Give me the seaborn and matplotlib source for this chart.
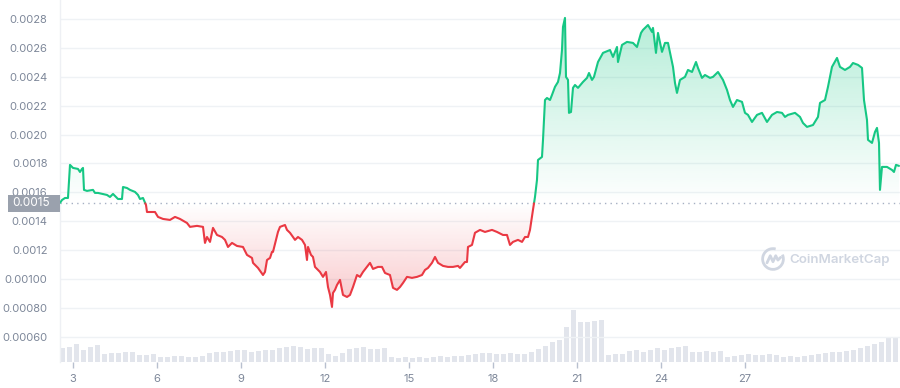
import numpy as np
import pandas as pd
import matplotlib
matplotlib.use("Agg")
import matplotlib.pyplot as plt
import seaborn as sns
from matplotlib.patches import Arc, Rectangle
from matplotlib.path import Path
from matplotlib.colors import to_rgb
import matplotlib.transforms as mtrans

# ---------------- data ----------------
days = [2.536, 2.607, 2.714, 2.821, 2.893, 3.0, 3.179, 3.25, 3.321, 3.357, 3.393, 3.5, 3.714, 3.786, 3.893,
        4.214, 4.321, 4.429, 4.607, 4.75, 4.786, 4.929, 5.036, 5.214, 5.321, 5.393, 5.5, 5.607, 5.643, 5.929,
        6.036, 6.214, 6.464, 6.643, 6.821, 7.071, 7.179, 7.429, 7.643, 7.714, 7.786, 7.893, 8.0, 8.143, 8.321,
        8.429, 8.536, 8.679, 8.857, 9.071, 9.214, 9.393, 9.429, 9.607, 9.786, 9.857, 9.929, 10.036, 10.107,
        10.143, 10.321, 10.393, 10.571, 10.643, 10.75, 10.857, 10.929, 11.036, 11.179, 11.286, 11.357, 11.393,
        11.5, 11.571, 11.643, 11.75, 11.821, 11.929, 12.036, 12.107, 12.179, 12.25, 12.286, 12.357, 12.429,
        12.536, 12.643, 12.786, 12.893, 13.0, 13.143, 13.25, 13.357, 13.607, 13.714, 13.893, 14.036, 14.143,
        14.321, 14.429, 14.571, 14.679, 14.786, 14.929, 15.107, 15.286, 15.464, 15.571, 15.679, 15.821, 15.929,
        16.036, 16.214, 16.393, 16.571, 16.75, 16.821, 17.0, 17.071, 17.107, 17.25, 17.357, 17.536, 17.714,
        17.964, 18.143, 18.357, 18.5, 18.607, 18.714, 18.893, 19.036, 19.143, 19.25, 19.321, 19.429, 19.5,
        19.571, 19.607, 19.75, 19.786, 19.857, 19.929, 20.036, 20.107, 20.214, 20.321, 20.393, 20.464, 20.5,
        20.571, 20.607, 20.679, 20.714, 20.786, 20.857, 20.929, 21.036, 21.214, 21.357, 21.429, 21.536, 21.607,
        21.75, 21.929, 22.179, 22.286, 22.429, 22.464, 22.607, 22.786, 23.0, 23.143, 23.286, 23.357, 23.536,
        23.679, 23.714, 23.821, 23.893, 24.036, 24.143, 24.25, 24.429, 24.5, 24.571, 24.679, 24.857, 24.964,
        25.107, 25.25, 25.321, 25.464, 25.571, 25.75, 25.857, 26.036, 26.214, 26.357, 26.464, 26.571, 26.714,
        26.893, 27.0, 27.107, 27.25, 27.429, 27.607, 27.786, 27.964, 28.143, 28.321, 28.429, 28.536, 28.786,
        28.964, 29.071, 29.214, 29.429, 29.607, 29.679, 29.857, 29.964, 30.107, 30.286, 30.393, 30.571, 30.75,
        30.857, 31.036, 31.179, 31.25, 31.357, 31.393, 31.536, 31.643, 31.714, 31.786, 31.821, 31.893, 32.071,
        32.25, 32.321, 32.393, 32.5]

prices = [0.001527, 0.001547, 0.001561, 0.001561, 0.00179, 0.001769, 0.001762, 0.001741, 0.001762, 0.001769,
          0.001617, 0.00161, 0.001617, 0.001596, 0.001596, 0.001582, 0.001568, 0.001589, 0.001554, 0.001554,
          0.001637, 0.00163, 0.001617, 0.001603, 0.001582, 0.001554, 0.001561, 0.001513, 0.001464, 0.001464,
          0.00143, 0.001416, 0.001409, 0.00143, 0.001416, 0.001388, 0.001361, 0.001368, 0.001361, 0.00125,
          0.001291, 0.001257, 0.001354, 0.001305, 0.001291, 0.001271, 0.001222, 0.00125, 0.001229, 0.001222,
          0.001167, 0.001146, 0.001112, 0.001077, 0.001028, 0.001049, 0.001132, 0.001146, 0.001188, 0.001188,
          0.001326, 0.001361, 0.001374, 0.00134, 0.00132, 0.001291, 0.001271, 0.001291, 0.001271, 0.001236,
          0.001132, 0.001222, 0.001167, 0.001153, 0.001084, 0.001063, 0.001049, 0.001015, 0.001049, 0.000945,
          0.00089, 0.000807, 0.000904, 0.000925, 0.000959, 0.000994, 0.00089, 0.000876, 0.00089, 0.000945,
          0.001028, 0.001015, 0.001049, 0.001112, 0.00107, 0.001084, 0.001084, 0.001042, 0.001028, 0.000939,
          0.000925, 0.000945, 0.000973, 0.001015, 0.001008, 0.001015, 0.001028, 0.001063, 0.001077, 0.001112,
          0.001153, 0.001112, 0.001091, 0.001084, 0.001084, 0.001091, 0.001077, 0.001118, 0.001118, 0.001222,
          0.001236, 0.00132, 0.00134, 0.001326, 0.00134, 0.001326, 0.001305, 0.001305, 0.001236, 0.001257,
          0.001271, 0.001257, 0.001291, 0.001291, 0.00134, 0.00148, 0.001568, 0.001686, 0.001824, 0.001845,
          0.001963, 0.002239, 0.002253, 0.002239, 0.002274, 0.00233, 0.002364, 0.002426, 0.002585, 0.002745,
          0.002807, 0.002399, 0.002378, 0.00215, 0.002156, 0.002323, 0.002343, 0.002323, 0.002364, 0.002392,
          0.002426, 0.002378, 0.002399, 0.002502, 0.002565, 0.002585, 0.002537, 0.002606, 0.002502, 0.00262,
          0.002641, 0.002634, 0.002606, 0.002703, 0.002724, 0.002758, 0.00271, 0.002738, 0.002565, 0.002703,
          0.002572, 0.002634, 0.002634, 0.002468, 0.002357, 0.002288, 0.002378, 0.002399, 0.002447, 0.002433,
          0.002502, 0.002461, 0.002392, 0.002412, 0.002392, 0.002399, 0.002433, 0.002378, 0.002309, 0.002239,
          0.002191, 0.002239, 0.002226, 0.00215, 0.002136, 0.002087, 0.002136, 0.00215, 0.002087, 0.002136,
          0.002156, 0.00215, 0.002122, 0.002136, 0.00215, 0.002122, 0.00208, 0.002053, 0.002066, 0.002122,
          0.002219, 0.002239, 0.00233, 0.002468, 0.00253, 0.002468, 0.002447, 0.002468, 0.002495, 0.002482,
          0.002461, 0.002239, 0.002101, 0.001963, 0.001942, 0.002018, 0.002046, 0.001942, 0.001617, 0.001776,
          0.001776, 0.001755, 0.001741, 0.00179, 0.001783]

base_price = 0.001524          # opening price (reference line)
base_label = "0.0015"

vol_start = 2.5
vol_step = 0.25
volume = [14, 15, 18, 12, 15, 17, 8, 9, 9, 10, 10, 7, 7, 8, 5, 5, 6, 6, 5, 5,
          6, 9, 10, 10, 11, 12, 12, 10, 11, 12, 12, 14, 15, 16, 15, 13, 14, 14, 8, 6,
          9, 13, 14, 15, 13, 13, 14, 5, 4, 5, 4, 5, 4, 5, 6, 5, 6, 6, 7, 8,
          9, 9, 8, 8, 9, 8, 8, 10, 13, 16, 20, 22, 35, 52, 40, 40, 41, 42, 7, 8,
          8, 11, 12, 10, 12, 14, 12, 14, 15, 16, 10, 10, 11, 10, 11, 5, 6, 7, 8, 7,
          7, 8, 7, 5, 6, 5, 6, 7, 8, 9, 10, 10, 11, 12, 14, 16, 18, 20, 24, 25]

xticks = [3, 6, 9, 12, 15, 18, 21, 24, 27]
yticks = [0.0028, 0.0026, 0.0024, 0.0022, 0.0020, 0.0018, 0.0016, 0.0014, 0.0012, 0.0010, 0.0008, 0.0006]
ytick_labels = ["0.0028", "0.0026", "0.0024", "0.0022", "0.0020", "0.0018", "0.0016", "0.0014",
                "0.0012", "0.00100", "0.00080", "0.00060"]

GREEN = "#16c784"
RED = "#ea3943"
TXT = "#7d8799"

# ---------------- style ----------------
sns.set_theme(style="white")
plt.rcParams["font.family"] = ["Inter", "DejaVu Sans"]

fig = plt.figure(figsize=(9, 3.88), dpi=100)
rect = [60 / 900, 26 / 388, 840 / 900, 362 / 388]
vax = fig.add_axes(rect)
ax = fig.add_axes(rect)
ax.patch.set_visible(False)

xlim = (2.536, 32.536)
ylim = (0.000426, 0.002931)

# ---------------- volume ----------------
vol_x = [vol_start + i * vol_step + vol_step / 2 for i in range(len(volume))]
vax.bar(vol_x, volume, width=vol_step * 0.62, color="#e2e5ec", linewidth=0)
vax.set_xlim(*xlim)
vax.set_ylim(0, max(volume) * 6.95)
vax.axis("off")

# ---------------- price line, split at base ----------------
d = np.array(days)
p = np.array(prices)
rows = []
seg = 0
cur = p[0] >= base_price
rows.append((d[0], p[0], seg, cur))
for i in range(1, len(d)):
    s = p[i] >= base_price
    if s != cur:
        t = (base_price - p[i - 1]) / (p[i] - p[i - 1])
        xc = d[i - 1] + t * (d[i] - d[i - 1])
        rows.append((xc, base_price, seg, cur))
        seg += 1
        rows.append((xc, base_price, seg, s))
        cur = s
    rows.append((d[i], p[i], seg, s))
df = pd.DataFrame(rows, columns=["day", "price", "seg", "up"])
df["trend"] = np.where(df["up"], "up", "down")


def grad_fill(ax, x, ylow, yhigh, color, y0, y1, a0, a1):
    poly = ax.fill_between(x, ylow, yhigh, facecolor="none", edgecolor="none", linewidth=0)
    path = Path.make_compound_path(*poly.get_paths())
    r, g, b = to_rgb(color)
    n = 256
    img = np.zeros((n, 1, 4))
    img[:, 0, 0], img[:, 0, 1], img[:, 0, 2] = r, g, b
    img[:, 0, 3] = np.linspace(a0, a1, n)
    im = ax.imshow(img, extent=(xlim[0], xlim[1], y0, y1), origin="lower",
                   aspect="auto", interpolation="bilinear", zorder=1)
    im.set_clip_path(path, transform=ax.transData)


xx = df["day"].values
pp = df["price"].values
grad_fill(ax, xx, base_price, np.maximum(pp, base_price), GREEN, base_price, p.max(), 0.0, 0.32)
grad_fill(ax, xx, np.minimum(pp, base_price), base_price, RED, p.min(), base_price, 0.28, 0.0)

sns.lineplot(data=df, x="day", y="price", hue="trend", units="seg", estimator=None,
             palette={"up": GREEN, "down": RED}, linewidth=1.5, legend=False, sort=False,
             ax=ax, zorder=3)

ax.axhline(base_price, color="#a6b0c3", linestyle=(0, (1, 3)), linewidth=1, zorder=2)

# ---------------- axes ----------------
ax.set_xlim(*xlim)
ax.set_ylim(*ylim)
ax.set_xlabel("")
ax.set_ylabel("")
ax.set_yticks(yticks)
ax.set_yticklabels(ytick_labels)
ax.set_xticks(xticks)
ax.set_xticklabels([str(t) for t in xticks])
ax.yaxis.grid(True, color="#eff2f5", linewidth=1)
ax.xaxis.grid(False)
ax.set_axisbelow(True)
ax.tick_params(axis="y", length=0, pad=9, labelsize=8, labelcolor=TXT)
ax.tick_params(axis="x", length=4, width=1, color="#b8c0cf", pad=5, labelsize=8,
               labelcolor=TXT, direction="out", bottom=True)
for side in ["top", "right", "bottom"]:
    ax.spines[side].set_visible(False)
ax.spines["left"].set_color("#eef0f4")
ax.spines["left"].set_linewidth(1)

# base price label box
trans = mtrans.blended_transform_factory(ax.transAxes, ax.transData)
box_h = 0.0001176
ax.add_patch(Rectangle((-52 / 840, base_price - box_h / 2), 52 / 840, box_h, transform=trans,
                       facecolor="#9aa1ad", edgecolor="none", clip_on=False, zorder=5))
ax.text(-10 / 840, base_price, base_label, transform=trans, ha="right", va="center",
        fontsize=8.5, color="white", zorder=6, clip_on=False)

# ---------------- watermark ----------------
wm = "#d0d6e1"
fig.text(789 / 900, 1 - 260 / 388, "CoinMarketCap", ha="left", va="center", fontsize=9.6,
         fontweight="semibold", color=wm)
lax = fig.add_axes([761 / 900, (388 - 271) / 388, 24 / 900, 24 / 388])
lax.set_xlim(-1.1, 1.1)
lax.set_ylim(-1.1, 1.1)
lax.axis("off")
lax.add_patch(Arc((0, 0), 1.9, 1.9, theta1=75, theta2=25, color=wm, linewidth=2))
lax.plot([-0.55, -0.25, 0.0, 0.25, 0.45, 0.7], [-0.35, 0.3, -0.25, 0.3, -0.1, 0.15],
         color=wm, linewidth=2, solid_capstyle="round", solid_joinstyle="round")

fig.savefig("out.png", dpi=100)
